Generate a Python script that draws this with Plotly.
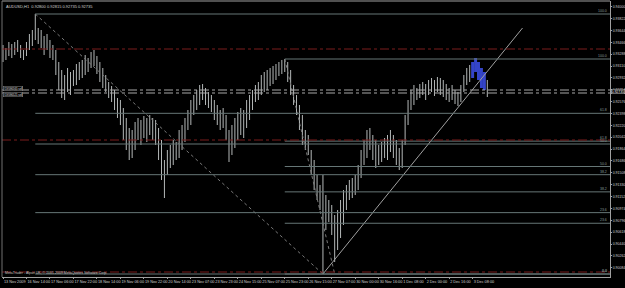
import plotly.graph_objects as go

# ---------------- data ----------------
symbol_title = "AUDUSD,H1  0.92800 0.92815 0.92735 0.92735"
footer_text = "MetaTrader - Alpari UK, © 2001-2009 MetaQuotes Software Corp."

x_tick_labels = ["13 Nov 2009", "16 Nov 14:00", "17 Nov 06:00", "17 Nov 22:00", "18 Nov 14:00",
                 "19 Nov 06:00", "19 Nov 22:00", "20 Nov 14:00", "23 Nov 07:00", "23 Nov 23:00",
                 "24 Nov 15:00", "25 Nov 07:00", "25 Nov 23:00", "26 Nov 15:00", "27 Nov 07:00",
                 "30 Nov 00:00", "30 Nov 16:00", "1 Dec 08:00", "2 Dec 00:00", "2 Dec 16:00",
                 "3 Dec 08:00"]
x_tick_idx = [0, 8, 16, 24, 32, 40, 48, 56, 64, 72, 80, 88, 96, 104, 112, 120, 128, 136, 144, 152, 160]

highs = [
    0.93425, 0.9338, 0.9347, 0.9344, 0.9347, 0.935, 0.93425, 0.9335, 0.9347, 0.9359,
    0.9365, 0.9389, 0.9368, 0.9365, 0.9356, 0.9359, 0.935, 0.93425, 0.9335, 0.9317,
    0.9305, 0.92975, 0.9308, 0.9302, 0.9305, 0.9314, 0.9317, 0.932, 0.93275, 0.9323,
    0.9332, 0.9335, 0.9326, 0.9317, 0.9308, 0.92975, 0.9287, 0.9281, 0.9275, 0.9263,
    0.926, 0.9248, 0.9233, 0.9218, 0.9215, 0.9227, 0.9233, 0.923, 0.9236, 0.9233,
    0.92375, 0.9233, 0.923, 0.9218, 0.92, 0.917, 0.9185, 0.91925, 0.92, 0.9197,
    0.9215, 0.92225, 0.9233, 0.9245, 0.926, 0.92675, 0.9275, 0.92825, 0.9284, 0.9278,
    0.9272, 0.92675, 0.926, 0.92525, 0.9245, 0.9248, 0.92375, 0.9215, 0.92225, 0.9233,
    0.9242, 0.9248, 0.9245, 0.926, 0.92675, 0.9275, 0.92825, 0.9287, 0.92975, 0.9302,
    0.9305, 0.9308, 0.9311, 0.9314, 0.9317, 0.932, 0.93215, 0.9317, 0.9305, 0.92825,
    0.92675, 0.92525, 0.92375, 0.9215, 0.92075, 0.9185, 0.917, 0.91475, 0.91325, 0.91475,
    0.91175, 0.911, 0.91025, 0.90875, 0.9095, 0.911, 0.9125, 0.91325, 0.914, 0.9143,
    0.91475, 0.91625, 0.9185, 0.92, 0.9215, 0.9218, 0.92075, 0.92, 0.91925, 0.9197,
    0.9203, 0.92075, 0.9215, 0.92075, 0.92, 0.9188, 0.92, 0.92375, 0.926, 0.9275,
    0.92825, 0.9278, 0.9284, 0.9287, 0.9284, 0.929, 0.9293, 0.929, 0.92945, 0.9293,
    0.929, 0.9284, 0.9278, 0.92825, 0.9275, 0.9272, 0.92825, 0.92975, 0.9308, 0.93125,
    0.9317, 0.9323, 0.9317, 0.9308, 0.9302, 0.929,
]
lows = [
    0.9317, 0.932, 0.9326, 0.9323, 0.93275, 0.9332, 0.9323, 0.932, 0.9326, 0.9335,
    0.9341, 0.935, 0.9344, 0.9338, 0.93275, 0.9335, 0.9323, 0.932, 0.92975, 0.9275,
    0.9263, 0.926, 0.9272, 0.92675, 0.9281, 0.92825, 0.929, 0.9293, 0.92975, 0.9302,
    0.9308, 0.9311, 0.9299, 0.9287, 0.9278, 0.9272, 0.9263, 0.9257, 0.9245, 0.9233,
    0.92225, 0.92, 0.9185, 0.917, 0.9173, 0.9185, 0.92, 0.91925, 0.9203, 0.9197,
    0.92075, 0.92, 0.91925, 0.917, 0.914, 0.9113, 0.91475, 0.9158, 0.91625, 0.917,
    0.9173, 0.9185, 0.9197, 0.9215, 0.92225, 0.92375, 0.9245, 0.92525, 0.926, 0.92525,
    0.9248, 0.9242, 0.923, 0.92225, 0.9215, 0.9218, 0.92, 0.9167, 0.91775, 0.9188,
    0.92, 0.92075, 0.9203, 0.9218, 0.923, 0.9245, 0.9257, 0.926, 0.92675, 0.9272,
    0.9275, 0.9281, 0.9284, 0.929, 0.9296, 0.9299, 0.9302, 0.9287, 0.92675, 0.92525,
    0.92375, 0.9215, 0.91925, 0.9185, 0.91775, 0.91475, 0.9125, 0.911, 0.9095, 0.8999,
    0.9065, 0.9077, 0.90575, 0.9017, 0.9035, 0.9053, 0.90725, 0.9095, 0.911, 0.9113,
    0.91175, 0.9125, 0.9143, 0.91625, 0.9173, 0.9185, 0.917, 0.9158, 0.91625, 0.9167,
    0.9173, 0.917, 0.9182, 0.9173, 0.91625, 0.9155, 0.9158, 0.91925, 0.92225, 0.9245,
    0.92525, 0.926, 0.9263, 0.92675, 0.926, 0.92675, 0.9272, 0.9266, 0.9272, 0.92675,
    0.92645, 0.926, 0.9257, 0.926, 0.9254, 0.9251, 0.9257, 0.9272, 0.92825, 0.9287,
    0.9293, 0.9302, 0.929, 0.9278, 0.9275, 0.92645,
]

blue_first, blue_last = 160, 164

fib_ratios = [0.0, 0.236, 0.382, 0.5, 0.618, 1.0]
fib_names = ["0.0", "23.6", "38.2", "50.0", "61.8", "100.0"]
fib2_high_idx = 96
fib2_end_idx = 113

trend_idx = [109, 177]
trend_price = [0.8999, 0.9368]

red_levels = [0.93365, 0.9200, 0.9002]
order_levels = [0.9275, 0.92705]
order_labels = ["#19596565 sell", "#19596521 sell"]
last_price = 0.92735

# ---------------- layout constants ----------------
X_LO, X_HI = -0.34, 206.8
Y_LO, Y_HI = 0.89945, 0.94085
FONT = "Liberation Sans"
BAR_COL = "#b4b8b8"
FIB_COL = "#667676"
RED_COL = "#7a1c1c"

fig = go.Figure()

def segs(idx_list):
    xs, ys = [], []
    for i in idx_list:
        xs += [i, i, None]
        ys += [lows[i], highs[i], None]
    return xs, ys

normal = [i for i in range(len(highs)) if not (blue_first <= i <= blue_last)]
blue = [i for i in range(len(highs)) if blue_first <= i <= blue_last]
sx, sy = segs(normal)
fig.add_trace(go.Scatter(x=sx, y=sy, mode="lines", line=dict(color=BAR_COL, width=1),
                         hoverinfo="skip", showlegend=False))
bx, by = segs(blue)
fig.add_trace(go.Scatter(x=bx, y=by, mode="lines", line=dict(color="#3444c8", width=3),
                         hoverinfo="skip", showlegend=False))

hi1_idx = highs.index(max(highs))
lo_idx = lows.index(min(lows))
hi1, lo = highs[hi1_idx], lows[lo_idx]
hi2 = highs[fib2_high_idx]

shapes = []
annotations = []

def fib(start_idx, hi, low):
    for r, name in zip(fib_ratios, fib_names):
        lvl = low + r * (hi - low)
        shapes.append(dict(type="line", xref="x", yref="y", x0=start_idx, x1=X_HI, y0=lvl, y1=lvl,
                           line=dict(color=FIB_COL, width=1)))
        annotations.append(dict(x=X_HI, y=lvl, xref="x", yref="y", text=name, showarrow=False,
                                xanchor="right", yanchor="bottom", xshift=-1, yshift=-1,
                                font=dict(family=FONT, size=3.5, color="#8a9c9c")))

fib(hi1_idx, hi1, lo)
fib(fib2_high_idx, hi2, lo)

fig.add_trace(go.Scatter(x=[hi1_idx, lo_idx], y=[hi1, lo], mode="lines",
                         line=dict(color="#7a7a7a", width=1, dash="dot"), hoverinfo="skip", showlegend=False))
fig.add_trace(go.Scatter(x=[fib2_high_idx, fib2_end_idx], y=[hi2, lo], mode="lines",
                         line=dict(color="#7a7a7a", width=1, dash="dot"), hoverinfo="skip", showlegend=False))
fig.add_trace(go.Scatter(x=trend_idx, y=trend_price, mode="lines",
                         line=dict(color="#a0a0a0", width=1), hoverinfo="skip", showlegend=False))

for lvl in red_levels:
    shapes.append(dict(type="line", xref="paper", yref="y", x0=0, x1=1, y0=lvl, y1=lvl,
                       line=dict(color=RED_COL, width=1, dash="dashdot")))
for lvl, lab, ys in zip(order_levels, order_labels, [1.5, -1.5]):
    shapes.append(dict(type="line", xref="paper", yref="y", x0=0, x1=1, y0=lvl, y1=lvl,
                       line=dict(color="#a8a8a8", width=1, dash="dashdot")))
    annotations.append(dict(x=0, y=lvl, xref="paper", yref="y", text=lab, showarrow=False,
                            xanchor="left", yanchor="middle", xshift=1, yshift=ys,
                            font=dict(family=FONT, size=2.8, color="#e0e0e0"),
                            bgcolor="#000000", bordercolor="#909090", borderwidth=0.5, borderpad=0))

shapes.append(dict(type="line", xref="paper", yref="paper", x0=0, x1=1, y0=1, y1=1,
                   line=dict(color="#505050", width=2)))
shapes.append(dict(type="line", xref="paper", yref="paper", x0=0, x1=0, y0=0, y1=1,
                   line=dict(color="#707070", width=1)))

annotations.append(dict(x=0, y=1, xref="paper", yref="paper", text=symbol_title, showarrow=False,
                        xanchor="left", yanchor="top", xshift=2, yshift=-1,
                        font=dict(family=FONT, size=4, color="#d0d0d0")))
annotations.append(dict(x=0, y=0, xref="paper", yref="paper", text=footer_text, showarrow=False,
                        xanchor="left", yanchor="bottom", xshift=1, yshift=0,
                        font=dict(family=FONT, size=3.5, color="#c0c0c0")))
annotations.append(dict(x=1, y=last_price, xref="paper", yref="y", text=f"{last_price:.5f}",
                        showarrow=False, xanchor="left", yanchor="middle", xshift=1,
                        font=dict(family=FONT, size=3.5, color="#ffffff"),
                        bgcolor="#000000", bordercolor="#d0d0d0", borderwidth=0.5, borderpad=0))

fig.update_layout(
    width=625, height=288,
    margin=dict(l=2, r=15, t=1, b=11),
    paper_bgcolor="#000000", plot_bgcolor="#000000",
    showlegend=False,
    shapes=shapes, annotations=annotations,
    xaxis=dict(range=[X_LO, X_HI], showgrid=False, zeroline=False,
               tickmode="array", tickvals=x_tick_idx, ticktext=x_tick_labels,
               ticks="outside", ticklen=1, tickcolor="#a0a0a0", tickangle=0,
               ticklabelposition="outside right",
               tickfont=dict(family=FONT, size=3.8, color="#d0d0d0"),
               showline=True, linecolor="#a0a0a0", linewidth=1, automargin=False),
    yaxis=dict(range=[Y_LO, Y_HI], side="right", showgrid=False, zeroline=False,
               tick0=0.94, dtick=0.00178, tickformat=".5f",
               ticks="outside", ticklen=1, tickcolor="#a0a0a0",
               tickfont=dict(family=FONT, size=3.5, color="#d0d0d0"),
               showline=True, linecolor="#a0a0a0", linewidth=1, automargin=False),
)

fig.write_html("out.html")
